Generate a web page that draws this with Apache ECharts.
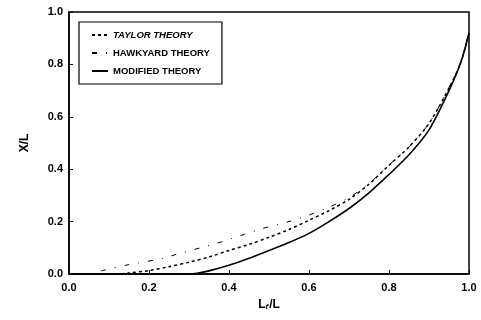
<!DOCTYPE html>
<html>
<head>
<meta charset="utf-8">
<script src="https://cdn.jsdelivr.net/npm/echarts@6/dist/echarts.min.js"></script>
<style>html,body{margin:0;padding:0;background:#fff}#c{width:481px;height:320px}</style>
</head>
<body>
<div id="c"></div>
<script>
var xTicks = [0, 0.2, 0.4, 0.6, 0.8, 1.0];
var seriesNames = ['TAYLOR THEORY', 'HAWKYARD THEORY', 'MODIFIED THEORY'];

var taylorX = [0.13, 0.15, 0.2, 0.25, 0.3, 0.35, 0.4, 0.45, 0.5, 0.55, 0.6, 0.65, 0.7, 0.75, 0.8, 0.85, 0.9, 0.95, 0.98, 1.0];
var taylorY = [0, 0.004, 0.013, 0.028, 0.045, 0.065, 0.09, 0.113, 0.14, 0.17, 0.205, 0.242, 0.285, 0.343, 0.415, 0.485, 0.575, 0.71, 0.81, 0.92];

var hawkX = [0.08, 0.144, 0.236, 0.27, 0.369, 0.48, 0.55, 0.6, 0.65, 0.7, 0.75, 0.8, 0.85, 0.9, 0.95, 0.98, 1.0];
var hawkY = [0.012, 0.034, 0.06, 0.076, 0.117, 0.172, 0.2, 0.225, 0.255, 0.292, 0.345, 0.416, 0.485, 0.575, 0.712, 0.812, 0.92];

var modX = [0.0, 0.3, 0.32, 0.35, 0.4, 0.45, 0.5, 0.55, 0.6, 0.65, 0.7, 0.75, 0.8, 0.85, 0.9, 0.95, 0.98, 1.0];
var modY = [0.0, 0.0, 0.003, 0.012, 0.033, 0.06, 0.09, 0.12, 0.155, 0.2, 0.25, 0.31, 0.38, 0.455, 0.55, 0.7, 0.81, 0.92];

function pairs(xs, ys) { return xs.map(function (x, i) { return [x, ys[i]]; }); }

var chart = echarts.init(document.getElementById('c'), null, { renderer: 'canvas' });
var font = 'Liberation Sans';
chart.setOption({
  animation: false,
  backgroundColor: '#fff',
  grid: { left: 69, right: 12, top: 12, bottom: 46, show: true, borderColor: '#000', borderWidth: 1.5, backgroundColor: 'transparent' },
  legend: {
    orient: 'vertical', left: 79, top: 22,
    padding: [8, 12, 8, 12], itemGap: 8, itemWidth: 16, itemHeight: 10,
    borderColor: '#000', borderWidth: 1.2, borderRadius: 0,
    backgroundColor: '#fff',
    itemStyle: { color: 'transparent', borderWidth: 0, opacity: 0 },
    textStyle: { fontFamily: font, fontSize: 9.5, fontWeight: 'bold', color: '#000' },
    data: [
      { name: seriesNames[0], textStyle: { fontStyle: 'italic' } },
      { name: seriesNames[1] },
      { name: seriesNames[2] }
    ]
  },
  xAxis: {
    type: 'value', min: 0, max: 1, interval: 0.2,
    name: '{a|L}{b|f}{a|/L}', nameLocation: 'middle', nameGap: 24,
    nameTextStyle: { rich: {
      a: { fontFamily: font, fontSize: 12, fontWeight: 'bold', color: '#000' },
      b: { fontFamily: font, fontSize: 8, fontWeight: 'bold', fontStyle: 'italic', color: '#000', padding: [5, 1, 0, 0] }
    } },
    axisLine: { lineStyle: { color: '#000', width: 1.5 } },
    axisTick: { inside: true, length: 4, lineStyle: { color: '#000' } },
    splitLine: { show: false },
    axisLabel: { fontFamily: font, fontSize: 11, fontWeight: 'bold', color: '#000', margin: 8,
      formatter: function (v) { return v.toFixed(1); } }
  },
  yAxis: {
    type: 'value', min: 0, max: 1, interval: 0.2,
    name: 'X/L', nameLocation: 'middle', nameGap: 38,
    nameTextStyle: { fontFamily: font, fontSize: 12, fontWeight: 'bold', color: '#000' },
    axisLine: { lineStyle: { color: '#000', width: 1.5 } },
    axisTick: { inside: true, length: 4, lineStyle: { color: '#000' } },
    splitLine: { show: false },
    axisLabel: { fontFamily: font, fontSize: 11, fontWeight: 'bold', color: '#000', margin: 6,
      formatter: function (v) { return v.toFixed(1); } }
  },
  series: [
    { name: seriesNames[0], type: 'line', data: pairs(taylorX, taylorY), showSymbol: false, symbol: 'none', smooth: 0.3,
      lineStyle: { color: '#000', width: 1.5, type: [3, 3] }, itemStyle: { color: '#000' }, z: 3 },
    { name: seriesNames[1], type: 'line', data: pairs(hawkX, hawkY), showSymbol: false, symbol: 'none', smooth: 0.3,
      lineStyle: { color: '#000', width: 1, type: [5, 9, 1, 9] }, itemStyle: { color: '#000' }, z: 2 },
    { name: seriesNames[2], type: 'line', data: pairs(modX, modY), showSymbol: false, symbol: 'none', smooth: 0.3,
      lineStyle: { color: '#000', width: 1.6 }, itemStyle: { color: '#000' }, z: 4 }
  ]
});
</script>
</body>
</html>
